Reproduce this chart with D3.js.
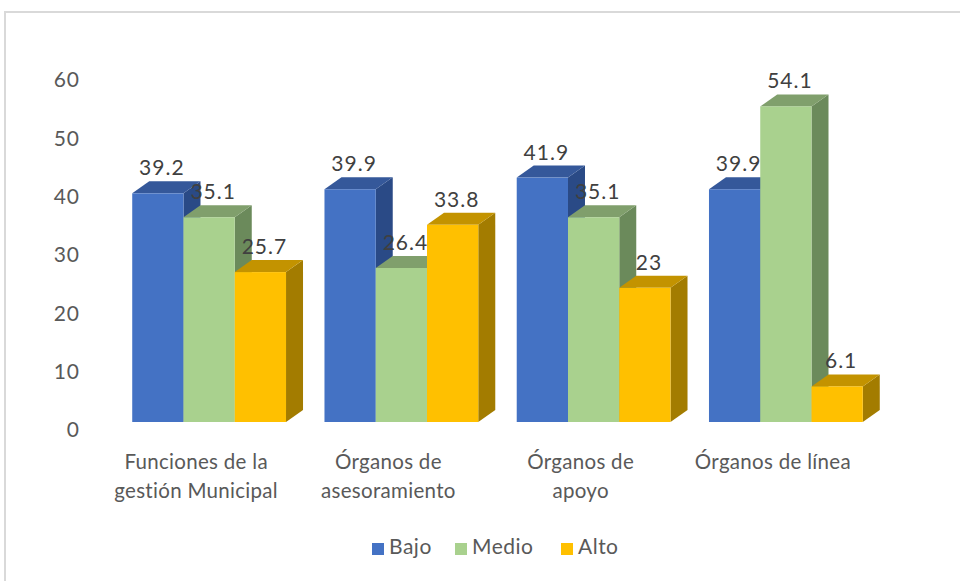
<!DOCTYPE html>
<html>
<head>
<meta charset="utf-8">
<script src="https://cdn.jsdelivr.net/npm/d3@7"></script>
<style>
  html, body { margin: 0; padding: 0; background: #fff; }
  svg text { font-family: Lato, "Open Sans", sans-serif; }
</style>
</head>
<body>
<div id="chart"></div>
<script>
const categories = [
  ['Funciones de la', 'gestión Municipal'],
  ['Órganos de', 'asesoramiento'],
  ['Órganos de', 'apoyo'],
  ['Órganos de línea']
];
const seriesNames = ['Bajo', 'Medio', 'Alto'];
const bajo = [39.2, 39.9, 41.9, 39.9];
const medio = [35.1, 26.4, 35.1, 54.1];
const alto = [25.7, 33.8, 23, 6.1];
const yTicks = [0, 10, 20, 30, 40, 50, 60];

const values = [bajo, medio, alto];
const front = ['#4472c4', '#a9d18e', '#ffc000'];
const top3d = ['#35589a', '#809f6c', '#c39300'];
const side = ['#2a4a86', '#6b8a5b', '#a37c00'];

const W = 960, H = 581;
const depthX = 17, depthY = 12;

const svg = d3.select('#chart').append('svg')
  .attr('width', W)
  .attr('height', H);

// frame (only top and left edges fall inside the window)
svg.append('rect')
  .attr('x', 5).attr('y', 12)
  .attr('width', W + 20).attr('height', H + 20)
  .attr('fill', 'none')
  .attr('stroke', '#d9d9d9')
  .attr('stroke-width', 2);

const catIdx = d3.range(categories.length);
const x = d3.scaleBand().domain(catIdx).range([113, 882]).paddingInner(0.2).paddingOuter(0.1);
const xs = d3.scaleBand().domain(d3.range(seriesNames.length)).range([0, x.bandwidth()]);
const y = d3.scaleLinear().domain([0, 60]).range([422, 72]);

// y tick labels
svg.append('g').selectAll('text')
  .data(yTicks)
  .join('text')
  .attr('x', 80)
  .attr('y', d => y(d) + 10)
  .attr('text-anchor', 'end')
  .attr('dominant-baseline', 'middle')
  .attr('fill', '#595959')
  .attr('font-size', 21)
  .attr('letter-spacing', 1)
  .text(d => d);

// bars, drawn left to right so later fronts cover earlier side faces
const bars = [];
catIdx.forEach(c => {
  seriesNames.forEach((s, k) => {
    bars.push({c, k, v: values[k][c]});
  });
});

const g = svg.append('g');
bars.forEach(b => {
  const x0 = x(b.c) + xs(b.k);
  const x1 = x0 + xs.bandwidth();
  const yt = y(b.v);
  const yb = y(0);
  const bar = g.append('g');
  bar.append('path')
    .attr('d', `M${x1},${yb}L${x1 + depthX},${yb - depthY}L${x1 + depthX},${yt - depthY}L${x1},${yt}Z`)
    .attr('fill', side[b.k]);
  bar.append('path')
    .attr('d', `M${x0},${yt}L${x0 + depthX},${yt - depthY}L${x1 + depthX},${yt - depthY}L${x1},${yt}Z`)
    .attr('fill', top3d[b.k]);
  bar.append('rect')
    .attr('x', x0).attr('y', yt)
    .attr('width', xs.bandwidth())
    .attr('height', yb - yt)
    .attr('fill', front[b.k]);
});

// data labels
svg.append('g').selectAll('text')
  .data(bars)
  .join('text')
  .attr('x', d => x(d.c) + xs(d.k) + xs.bandwidth() / 2 + 4)
  .attr('y', d => y(d.v) - depthY - 6)
  .attr('text-anchor', 'middle')
  .attr('fill', '#404040')
  .attr('font-size', 21)
  .attr('letter-spacing', 1)
  .text(d => d.v);

// category labels
const cat = svg.append('g').selectAll('text')
  .data(categories)
  .join('text')
  .attr('text-anchor', 'middle')
  .attr('fill', '#595959')
  .attr('font-size', 20.5)
  .attr('letter-spacing', 0.3)
  .attr('transform', (d, i) => `translate(${x(i) + x.bandwidth() / 2 - 13},469)`);
cat.selectAll('tspan')
  .data(d => d)
  .join('tspan')
  .attr('x', 0)
  .attr('dy', (d, i) => i === 0 ? 0 : 29)
  .text(d => d);

// legend
const legendX = [372, 455, 561];
const legend = svg.append('g').selectAll('g')
  .data(seriesNames)
  .join('g')
  .attr('transform', (d, i) => `translate(${legendX[i]},549)`);
legend.append('rect')
  .attr('x', 0).attr('y', -6)
  .attr('width', 12).attr('height', 12)
  .attr('fill', (d, i) => front[i]);
legend.append('text')
  .attr('x', 17)
  .attr('y', 0)
  .attr('dominant-baseline', 'middle')
  .attr('fill', '#595959')
  .attr('font-size', 21)
  .attr('letter-spacing', 0.5)
  .text(d => d);
</script>
</body>
</html>
